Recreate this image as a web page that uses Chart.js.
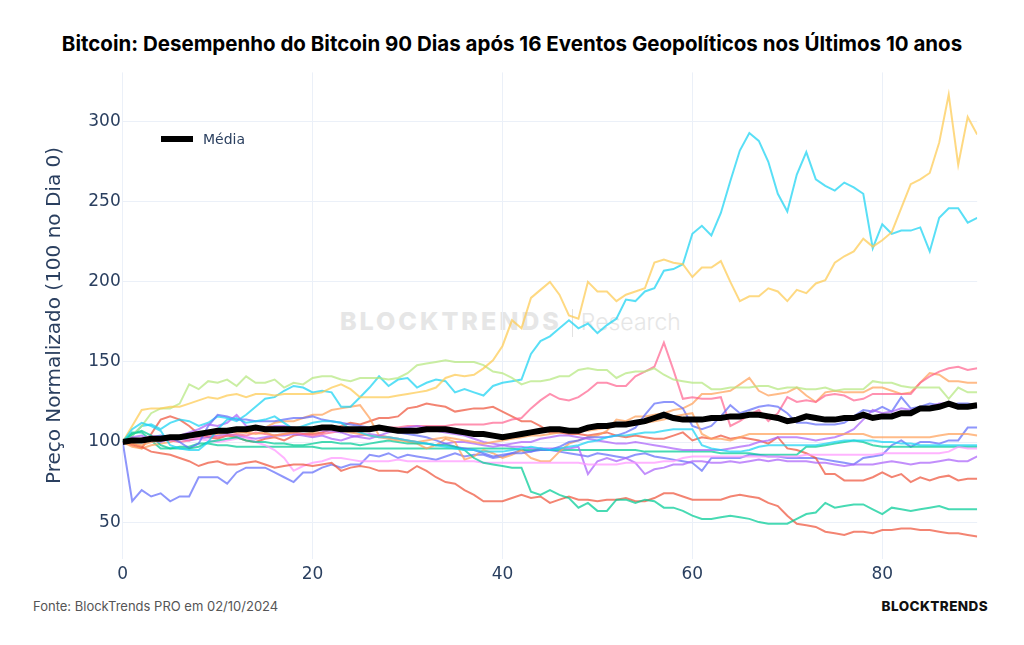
<!DOCTYPE html>
<html>
<head>
<meta charset="utf-8">
<script src="https://cdn.jsdelivr.net/npm/chart.js@4.4.1/dist/chart.umd.min.js"></script>
<style>
body{margin:0;background:#fff;}
#wrap{position:relative;width:1024px;height:645px;overflow:hidden;background:#fff;}
#grafico{position:absolute;left:0;top:0;z-index:2;}
.txt{position:absolute;white-space:nowrap;}
#titulo{left:0;width:1024px;top:31px;text-align:center;font:700 20.5px Inter,sans-serif;color:#000;}
#marca{left:340px;top:306px;z-index:1;font:800 25px/30px Inter,sans-serif;color:#e6e6e6;letter-spacing:3px;}
#marca b{display:inline-block;width:1px;height:28px;background:#e2e2e2;vertical-align:middle;margin:0 8px 0 10px;}
#marca span{font-weight:300;font-size:23px;letter-spacing:0;color:#e6e6e6;}
#leg{left:161px;top:131px;z-index:3;font:14px "DejaVu Sans",sans-serif;color:#2a3f5f;}
#leg i{display:inline-block;width:32px;height:6px;background:#000;vertical-align:middle;margin-right:10px;margin-top:-3px;}
#fonte{left:33px;top:598px;font:13px Inter,sans-serif;color:#555;}
#logo{right:36px;top:598px;font:800 13.5px Inter,sans-serif;color:#111;letter-spacing:0.4px;}
</style>
</head>
<body>
<div id="wrap">
  <div class="txt" id="titulo">Bitcoin: Desempenho do Bitcoin 90 Dias após 16 Eventos Geopolíticos nos Últimos 10 anos</div>
  <div class="txt" id="marca">BLOCKTRENDS<b></b><span>Research</span></div>
  <canvas id="grafico" width="1024" height="645"></canvas>
  <div class="txt" id="leg"><i></i>Média</div>
  <div class="txt" id="fonte">Fonte: BlockTrends PRO em 02/10/2024</div>
  <div class="txt" id="logo">BLOCKTRENDS</div>
</div>
<script>
const dias = [0,1,2,3,4,5,6,7,8,9,10,11,12,13,14,15,16,17,18,19,20,21,22,23,24,25,26,27,28,29,30,
  31,32,33,34,35,36,37,38,39,40,41,42,43,44,45,46,47,48,49,50,51,52,53,54,55,56,57,58,59,60,
  61,62,63,64,65,66,67,68,69,70,71,72,73,74,75,76,77,78,79,80,81,82,83,84,85,86,87,88,89,90];

const evento01 = [100,63,70,66,68,63,66,66,78,78, 78,74,81,84,84,84,81,78,75,81, 81,84,86,84,86,86,92,91,93,90,
  92,91,90,89,91,93,91,92,92,90, 91,93,95,94,96,95,94,93,92,91, 93,92,91,90,92,93,91,90,89,88,
  87,82,90,90,90,90,92,92,91,91, 90,90,90,90,89,88,87,86,90,91, 92,98,101,97,100,100,99,101,101,109, 109];
const evento02 = [100,98,96,105,114,116,114,110,105,103, 102,104,103,101,100,102,103,101,104,105, 105,106,108,110,112,111,113,115,115,116,
  121,122,124,123,122,119,120,121,121,122, 119,116,113,113,110,106,106,105,105,104, 105,106,104,103,104,103,102,102,104,106,
  101,103,102,104,102,103,102,101,99,103, 96,95,93,90,80,80,76,76,76,78, 81,78,80,75,78,76,78,79,76,77, 77];
const evento03 = [100,106,106,101,96,96,97,97,99,99, 98,98,97,97,97,97,97,97,97,97, 97,96,96,96,96,96,96,96,96,96,
  96,96,96,96,96,96,96,96,96,96, 96,96,95,95,95,95,95,95,95,95, 95,95,95,95,95,94,94,94,94,94,
  94,94,94,93,93,93,93,92,92,92, 92,92,97,97,98,99,100,101,100,98, 97,97,97,97,97,97,97,97,97,97, 97];
const evento04 = [100,101,102,100,102,103,102,101,102,103, 104,105,104,103,102,103,104,104,105,104, 103,104,102,101,103,104,105,104,103,102,
  101,100,99,98,99,100,100,99,98,97, 98,97,97,96,96,96,96,96,97,80, 88,90,88,90,87,80,83,84,86,86,
  88,88,87,87,88,87,88,89,88,89, 88,88,88,87,87,86,85,86,86,86, 87,88,87,86,87,87,88,89,88,88, 91];
const evento05 = [100,97,96,98,99,100,102,103,104,105, 105,106,107,106,108,109,112,113,113,115, 117,117,120,121,122,123,115,104,103,102,
  100,99,96,98,102,100,89,91,95,93, 90,92,95,90,88,88,94,99,101,103, 104,107,114,113,116,116,117,118,120,121,
  124,130,130,131,132,136,140,132,129,130, 131,134,129,125,131,132,131,131,131,134, 134,132,130,131,137,143,142,138,138,137, 137];
const evento06 = [100,104,110,111,108,112,114,113,110,112, 116,115,113,117,122,127,128,132,135,134, 131,132,131,122,122,128,134,141,135,139,
  140,134,137,139,138,131,133,131,129,135, 137,138,139,155,163,166,171,176,171,174, 168,173,177,189,188,194,196,207,208,211,
  230,235,229,243,263,282,293,288,275,255, 244,267,281,264,260,257,262,259,255,221, 236,230,232,232,234,219,240,246,246,237, 240];
const evento07 = [100,101,102,103,102,101,100,101,103,104, 103,104,105,104,106,105,104,105,106,105, 104,105,106,107,108,108,108,109,109,109,
  110,110,110,110,110,111,111,111,111,112, 112,114,115,121,126,130,127,126,128,132, 137,137,135,135,141,144,147,162,145,127,
  128,127,127,128,110,113,117,120,113,118, 128,125,126,125,129,130,129,126,127,130, 130,130,130,130,137,141,144,146,147,145, 146];
const evento08 = [100,104,110,118,121,121,124,136,133,138, 137,139,135,141,137,137,139,134,137,136, 140,141,141,139,138,140,140,140,139,140,
  143,148,149,150,151,150,150,150,148,144, 143,140,136,138,138,139,141,141,145,146, 145,145,140,143,144,144,146,142,139,138,
  137,137,133,133,134,134,134,135,135,133, 134,134,133,133,134,132,133,133,133,138, 137,137,135,134,134,134,134,127,134,131, 131];
const evento09 = [100,101,102,104,103,101,102,103,102,101, 100,101,102,103,100,98,95,90,82,85, 87,88,90,90,89,88,88,88,88,89,
  88,88,88,88,88,88,88,88,87,87, 87,87,87,87,87,87,87,87,87,86, 86,86,86,87,87,87,87,88,88,90,
  91,91,91,91,91,91,91,91,91,91, 91,91,92,92,92,92,92,92,92,92, 93,93,93,93,93,93,93,94,97,96, 96];
const evento10 = [100,110,120,121,121,122,122,124,126,128, 127,129,130,128,130,130,129,130,130,130, 130,131,134,136,133,128,128,128,128,129,
  130,131,132,134,140,142,141,142,146,151, 160,176,171,190,195,200,192,179,177,200, 194,194,188,192,194,196,212,214,212,211,
  203,209,209,213,200,188,191,191,196,194, 188,195,193,199,201,212,216,219,227,222, 226,231,246,261,264,268,287,317,273,303, 292];
const evento11 = [100,102,101,103,104,103,100,96,99,110, 117,116,114,114,113,113,113,114,115,115, 116,114,113,112,111,110,109,108,107,106,
  105,104,103,101,99,97,96,95,93,91, 92,93,93,94,95,95,97,100,101,103, 103,103,104,106,109,117,124,125,125,121,
  110,108,110,116,123,118,120,122,123,122, 118,112,112,111,111,111,112,116,120,119, 122,119,128,121,122,124,123,123,124,124, 123];
const evento12 = [100,99,97,94,93,92,90,88,85,87, 88,86,86,87,88,86,84,85,86,86, 85,86,87,82,84,85,84,82,82,82,
  81,85,82,78,75,74,70,67,63,63, 63,65,67,65,66,62,64,66,64,64, 63,64,64,65,63,63,65,68,68,66,
  64,64,64,64,66,67,66,65,62,60, 54,49,48,47,44,43,42,44,44,43, 45,45,46,46,45,45,44,43,43,42, 41];
const evento13 = [100,105,107,104,98,96,96,96,97,100, 101,102,103,101,100,100,99,99,98,98, 99,100,100,99,99,98,99,100,101,100,
  99,99,99,98,98,97,95,90,87,86, 85,84,84,69,67,70,67,65,59,62, 57,57,64,64,62,64,63,59,59,57,
  54,52,52,53,54,53,52,50,49,49, 49,52,55,56,62,59,60,61,61,58, 55,59,58,57,58,59,60,58,58,58, 58];
const evento14 = [100,103,104,101,100,102,104,106,108,111, 110,112,117,110,108,109,110,110,109,108, 108,107,107,106,104,103,102,104,106,108,
  109,110,109,107,106,105,104,102,100,99, 98,99,100,100,102,103,104,104,103,102, 101,100,99,99,100,99,98,97,96,95,
  95,95,95,95,96,97,98,100,101,103, 103,103,102,101,102,103,105,108,114,120, 118,119,121,120,121,122,124,124,123,122, 122];
const evento15 = [100,99,98,100,101,102,103,104,104,105, 106,107,106,106,105,106,104,105,106,107, 106,108,108,107,106,105,104,103,102,101,
  101,100,101,102,103,102,101,100,99,100, 101,102,103,104,104,105,106,107,108,107, 108,109,110,111,112,112,113,114,116,117,
  118,105,102,102,101,103,105,105,105,105, 105,105,105,105,105,105,105,105,105,103, 103,103,103,103,103,103,104,105,105,105, 104];
const evento16 = [100,108,112,110,107,98,96,95,95,100, 108,114,115,112,113,114,116,112,108,110, 112,113,113,112,108,106,104,103,103,102,
  101,100,99,98,97,96,95,95,94,94, 94,95,96,97,96,95,96,97,98,100, 101,103,104,104,105,106,106,107,108,108,
  108,98,96,95,94,94,95,97,98,98, 98,98,98,98,99,100,101,101,101,101, 100,100,99,99,98,98,98,98,98,98, 98];
const media = [100,101,101,102,102,103,103,104,105,106, 107,107,108,108,109,108,108,108,108,108, 108,109,109,108,108,108,108,109,108,107,
  107,107,108,108,108,107,106,105,105,104, 103,104,105,106,107,108,108,107,107,109, 110,110,111,111,112,113,115,117,115,114,
  114,114,115,115,116,116,117,117,116,115, 113,114,116,115,114,114,115,115,117,115, 116,116,118,118,121,121,122,124,122,122, 123];

const eventos = [evento01,evento02,evento03,evento04,evento05,evento06,evento07,evento08,
  evento09,evento10,evento11,evento12,evento13,evento14,evento15,evento16];
const ticksX = [0,20,40,60,80];
const ticksY = [50,100,150,200,250,300];

// paleta padrão (repete depois da 10ª linha)
const cores = ['#636EFA','#EF553B','#00CC96','#AB63FA','#FFA15A','#19D3F3','#FF6692','#B6E880','#FF97FF','#FECB52'];

function hexA(h, a){
  const n = parseInt(h.slice(1),16);
  return 'rgba('+(n>>16)+','+((n>>8)&255)+','+(n&255)+','+a+')';
}

const datasets = eventos.map((vals,i)=>({
  label: 'Evento '+(i+1),
  data: vals.map((v,j)=>({x:dias[j], y:v})),
  borderColor: hexA(cores[i%10], 0.72),
  borderWidth: 2,
  pointRadius: 0,
  tension: 0,
  order: 17-i
}));
datasets.push({
  label: 'Média',
  data: media.map((v,j)=>({x:dias[j], y:v})),
  borderColor: '#000',
  borderWidth: 6,
  pointRadius: 0,
  tension: 0,
  order: 0
});

const corTexto = '#2a3f5f';
const grade = '#EBF0F8';
const fonteEixo = 'DejaVu Sans';

new Chart(document.getElementById('grafico'), {
  type: 'line',
  data: { datasets: datasets },
  options: {
    responsive: false,
    animation: false,
    layout: { padding: { left: 0, right: 46.8, top: 72.4, bottom: 0 } },
    plugins: { legend: { display: false }, title: { display: false }, tooltip: { enabled: false } },
    scales: {
      x: {
        type: 'linear', min: 0, max: 90,
        afterFit: s => { s.height = 86.4; },
        afterBuildTicks: s => { s.ticks = ticksX.map(v=>({value:v})); },
        grid: { color: grade, lineWidth: 1, drawTicks: false },
        border: { display: false },
        ticks: { color: corTexto, padding: 6, font: { family: fonteEixo, size: 17 }, maxRotation: 0 }
      },
      y: {
        min: 27.2, max: 330.8,
        afterFit: s => { s.width = 122.7; },
        afterBuildTicks: s => { s.ticks = ticksY.map(v=>({value:v})); },
        grid: { color: grade, lineWidth: 1, drawTicks: false },
        border: { display: false },
        ticks: { color: corTexto, padding: 2, font: { family: fonteEixo, size: 17 } },
        title: { display: true, text: 'Preço Normalizado (100 no Dia 0)', color: corTexto,
                 font: { family: fonteEixo, size: 20 }, padding: { top: 43, bottom: 0 } }
      }
    }
  }
});
</script>
</body>
</html>
